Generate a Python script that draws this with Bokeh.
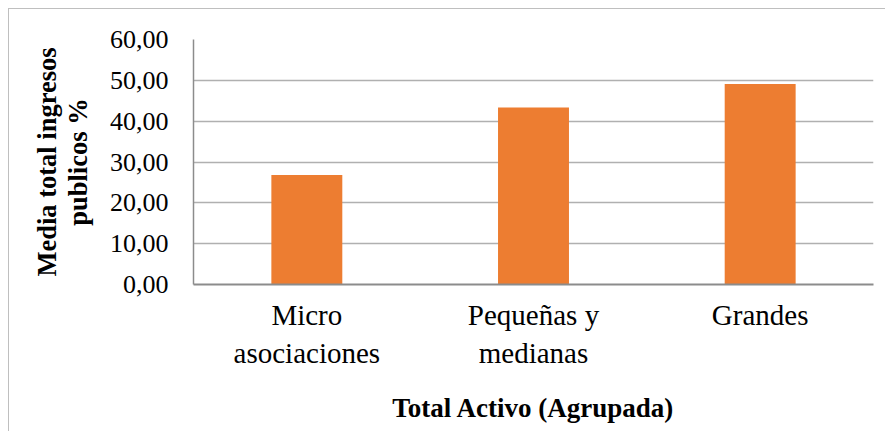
from bokeh.plotting import figure
from bokeh.models import FixedTicker, Range1d, FactorRange, LinearAxis, CategoricalAxis
from bokeh.embed import file_html
from bokeh.resources import INLINE

# category labels are split over two lines: first line, second line
categories = ["Micro", "Pequeñas y", "Grandes"]
categories_line2 = ["asociaciones", "medianas", " "]
values = [26.8, 43.35, 49.1]
y_ticks = [0, 10, 20, 30, 40, 50, 60]
y_tick_labels = ["0,00", "10,00", "20,00", "30,00", "40,00", "50,00", "60,00"]
y_title_lines = ["Media total ingresos", "publicos %"]
x_title = "Total Activo (Agrupada)"

FONT = "'Liberation Serif', 'Times New Roman', serif"

p = figure(
    x_range=FactorRange(*categories, range_padding=0),
    y_range=Range1d(0, 60),
    width=877, height=423,
    output_backend="svg", toolbar_location=None,
    min_border_left=184, min_border_right=13,
    min_border_top=30, min_border_bottom=148,
    styles={"margin-left": "9px", "margin-top": "9px",
            "box-shadow": "-1px -1px 0 0 #bfbfbf"},
)
p.extra_x_ranges = {"line2": FactorRange(*categories_line2, range_padding=0)}
p.background_fill_color = "white"
p.border_fill_color = "white"
p.outline_line_color = None

p.vbar(x=categories, top=values, width=0.313, fill_color="#ED7D31", line_color=None)

# y axis (inner): tick labels + second title line
p.yaxis.ticker = FixedTicker(ticks=y_ticks)
p.yaxis.major_label_overrides = {t: l for t, l in zip(y_ticks, y_tick_labels)}
p.yaxis.major_label_text_font = FONT
p.yaxis.major_label_text_font_size = "26px"
p.yaxis.major_label_text_color = "black"
p.yaxis.major_label_standoff = 25
p.yaxis.major_tick_out = 0
p.yaxis.major_tick_line_color = None
p.yaxis.minor_tick_line_color = None
p.yaxis.axis_line_color = "#8c8c8c"
p.yaxis.axis_line_width = 1.5
p.yaxis.axis_label = y_title_lines[1]
p.yaxis.axis_label_text_font = FONT
p.yaxis.axis_label_text_font_style = "bold"
p.yaxis.axis_label_text_font_size = "26.5px"
p.yaxis.axis_label_text_color = "black"
p.yaxis.axis_label_standoff = 14

# outer y axis carrying first title line
y_outer = LinearAxis(ticker=FixedTicker(ticks=[]), axis_line_color=None,
                     major_tick_out=0, minor_tick_out=0, major_label_standoff=0,
                     axis_label=y_title_lines[0], axis_label_text_font=FONT,
                     axis_label_text_font_style="bold",
                     axis_label_text_font_size="26.5px",
                     axis_label_text_color="black", axis_label_standoff=-2)
p.add_layout(y_outer, "left")

# x axis (inner): first line of category labels
p.xaxis.major_label_text_font = FONT
p.xaxis.major_label_text_font_size = "29px"
p.xaxis.major_label_text_color = "black"
p.xaxis.major_label_standoff = 14
p.xaxis.major_tick_out = 0
p.xaxis.major_tick_line_color = None
p.xaxis.axis_line_color = "#8c8c8c"
p.xaxis.axis_line_width = 2

# outer x axis: second line of category labels + title
x_outer = CategoricalAxis(x_range_name="line2",
                          axis_line_color=None, major_tick_line_color=None,
                          major_tick_out=0,
                          major_label_text_font=FONT,
                          major_label_text_font_size="29px",
                          major_label_text_color="black",
                          major_label_standoff=3,
                          axis_label=x_title, axis_label_text_font=FONT,
                          axis_label_text_font_style="bold",
                          axis_label_text_font_size="27px",
                          axis_label_text_color="black", axis_label_standoff=21)
p.add_layout(x_outer, "below")

p.xgrid.grid_line_color = None
p.ygrid.grid_line_color = "#b0b0b0"
p.ygrid.grid_line_width = 1.5

open("out.html", "w").write(file_html(p, INLINE))
